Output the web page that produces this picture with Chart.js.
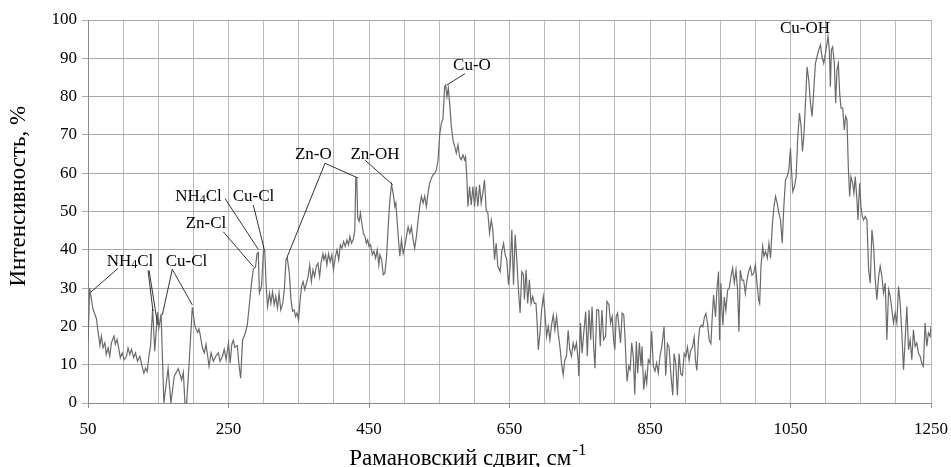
<!DOCTYPE html>
<html lang="ru">
<head>
<meta charset="UTF-8">
<title>Рамановский спектр</title>
<script src="https://cdn.jsdelivr.net/npm/chart.js"></script>
<style>
  body { margin: 0; background: #fff; }
</style>
</head>
<body>
<canvas id="myChart" width="951" height="467"></canvas>
<script>
// Raman shift, cm-1
const shift = [
  50, 52.4, 57, 62, 64, 67, 69, 71.4, 74, 76,
  78.6, 81, 83.3, 87, 89, 91.4, 94, 96, 98.6, 101.4,
  104.8, 107, 109.5, 112, 115, 117.6, 120.5, 123.8, 127, 129.5,
  132, 134.3, 136.7, 139, 142, 145, 149, 151, 154, 158,
  164, 168, 172.8, 178.5, 181, 183.3, 185.7, 188, 190.4, 193.8,
  198.5, 202.3, 206, 208, 210, 212.8, 215.7, 218, 220.4, 222.3,
  225.2, 228.5, 231.8, 235.6, 238, 241.4, 244, 246.6, 250, 252.3,
  254.7, 256.8, 259, 262.5, 264.9, 267.3, 270, 273.5, 276.8, 279.6,
  283, 285.3, 288.5, 290.6, 292.4, 294, 297, 300, 301.5, 303.7,
  305.6, 308.4, 310.3, 312.7, 315, 317.3, 319.7, 322, 324.4, 327.2,
  329.5, 331.9, 333.7, 336.6, 338.9, 341.2, 343.5, 345.5, 347.5, 349.7,
  351.6, 353.9, 356.2, 358.6, 361, 363.3, 365.6, 368, 370.3, 372.6,
  375, 377.3, 379.7, 382, 384.4, 385.8, 388.1, 390, 392.3, 394.7,
  397, 399.4, 402.2, 404.5, 406.9, 409.2, 411.5, 413.9, 416.2, 418.6,
  420.9, 422.8, 425.1, 427.5, 429.8, 431.2, 432.6, 434, 435.9, 437.8,
  439.7, 442, 444.4, 446.2, 448.1, 450, 452.3, 454.7, 457, 459.4,
  461.7, 464, 465.5, 468, 470.2, 472.6, 475, 477.3, 479.7, 482,
  484.4, 486.8, 488.2, 490, 492, 493.9, 496.2, 498.6, 501, 503.3,
  505.7, 508, 510.4, 512.8, 515, 517.5, 519.9, 522.2, 524.6, 527,
  529.3, 531.7, 534, 536.4, 538.8, 541.2, 543.5, 545.9, 548.3, 550.6,
  553, 555.3, 557.7, 559.1, 561, 562.9, 564.8, 567.2, 569.5, 571.9,
  574.3, 576.6, 579, 581.4, 583.7, 586.1, 587.5, 589.4, 590.8, 593.2,
  595.5, 597.9, 600.3, 602.6, 605, 607.4, 609.7, 612, 614.4, 616.8,
  619.2, 621.6, 624, 626.3, 628.7, 631, 633.4, 636.8, 639, 641.5,
  643.9, 646.2, 648.6, 651, 653.3, 655.7, 658, 660.4, 662.7, 665.1,
  667.5, 669.8, 671.2, 673.6, 675.9, 678.3, 680.7, 683, 685.4, 687.7,
  689.6, 691, 693.4, 695.8, 698.1, 700.5, 702.8, 705.2, 707.5, 709.9,
  712.3, 714.6, 717, 719.3, 721.7, 724, 726.4, 728.8, 731.1, 733.5,
  735.8, 738.2, 740.6, 742.9, 745.3, 747.7, 748.6, 751, 753.3, 755.7,
  758.5, 760.8, 763.2, 765.6, 767.5, 769.8, 771.7, 774.1, 776.9, 779.2,
  781.6, 784, 786.8, 788.7, 791.5, 793.9, 796.2, 798.1, 800, 801.9,
  803.8, 805.7, 808, 810.4, 812.7, 814.6, 816, 817.4, 819.8, 821.7,
  824, 826.4, 828.3, 830.6, 832.5, 834.9, 837.2, 838.7, 841, 843.4,
  845.3, 847.6, 850, 852.4, 854.7, 857.1, 859.4, 861.8, 864.2, 866.7,
  870, 872.4, 874.8, 877.1, 879.5, 882.4, 884.3, 886.7, 889, 891.4,
  893.8, 896.2, 898.6, 901, 903.3, 905.7, 908, 910.5, 912.9, 914.8,
  916.7, 919, 920.5, 922.8, 925.2, 927.6, 929.5, 931.9, 934.3, 936.7,
  938.6, 940.5, 941.9, 943.3, 945.2, 947.6, 949, 950.9, 952.4, 953.8,
  955.7, 958, 960.5, 962.8, 965.2, 967.6, 970, 972.4, 974.7, 976.6,
  978.5, 980.9, 983.3, 985.7, 988, 990.4, 992.8, 995.2, 997.6, 1000,
  1002.3, 1004.7, 1006.1, 1008, 1010.4, 1012.2, 1014.5, 1017, 1019.3, 1021.6,
  1024, 1026.4, 1028.7, 1031, 1033.4, 1035.8, 1038.2, 1040.5, 1042.9, 1045.3,
  1047.6, 1050, 1051.4, 1053.3, 1055.7, 1058, 1060.4, 1062.8, 1065.1, 1067,
  1069, 1071.3, 1073.6, 1076, 1078.4, 1080.7, 1083.1, 1085.5, 1087.8, 1090.2,
  1092.6, 1094.9, 1097.3, 1099.7, 1102, 1103.4, 1105.3, 1106.8, 1108.2, 1110,
  1112.4, 1114.3, 1116.2, 1118.1, 1120, 1121.9, 1124.3, 1126.6, 1128.5, 1130.4,
  1132.3, 1134.2, 1136.1, 1138.5, 1140.3, 1142.2, 1144.6, 1146, 1148.4, 1150.3,
  1152.2, 1154, 1156.4, 1158.8, 1161.2, 1163.5, 1165.9, 1168.3, 1170.6, 1173,
  1175.4, 1177.7, 1180.1, 1182.4, 1184.8, 1187.2, 1189.6, 1192, 1194.3, 1196.7,
  1199, 1201.4, 1203.8, 1206.1, 1208.5, 1210.9, 1213.2, 1215.6, 1218, 1220.3,
  1222.7, 1225, 1227.4, 1229.8, 1232.1, 1234.5, 1236.9, 1239.2, 1241.6, 1244,
  1246.3, 1248.7, 1250
];

// intensity, %
const intensity = [
  16, 30, 24.6, 22, 19, 15, 17.5, 14.4, 15.7, 12.7,
  14.4, 12.2, 15.7, 17.5, 15.3, 16.6, 14, 11.8, 13.1, 11.3,
  12.2, 14.4, 12.7, 14, 11.8, 13.1, 10.9, 12.2, 9.6, 7.8,
  9.1, 8.2, 12.2, 14.9, 24.6, 13.5, 23.7, 19.7, 23.3, 0,
  9, 0, 7, 9, 7.5, 6, 8, 0, 0, 10,
  25, 20, 18.4, 19.3, 17.5, 14.4, 13.1, 15.3, 12.2, 9.6,
  13.1, 10.9, 12.2, 13.1, 10.9, 12.2, 14, 11.3, 15.7, 10.4,
  15.3, 16.4, 14.5, 15, 10, 6.5, 16.4, 18, 20.4, 25.6,
  31.7, 35, 35.5, 39, 39.3, 28.7, 30.5, 40.4, 40, 30.4,
  25.2, 28.7, 26, 29, 25.7, 27.8, 24.8, 28.7, 24.3, 26,
  29.6, 37.4, 37.8, 33.9, 27, 24, 24.3, 22.6, 23.5, 21.7,
  26, 30.4, 31.7, 29.6, 31.3, 33, 36, 31.7, 34.8, 33,
  35.7, 36.5, 33, 37, 39, 37.4, 38.7, 36, 39, 36.9,
  38.7, 34.8, 38.3, 40, 37.4, 41.3, 40.4, 42.2, 40.9, 42.6,
  41.3, 43.5, 41.7, 42.6, 45.2, 58.7, 58.3, 48.3, 47.4, 49.6,
  47, 44.3, 43.5, 41.7, 42.6, 40.9, 41.3, 38.7, 39.6, 37.8,
  40, 36, 38.7, 37.4, 33.5, 33.9, 38.3, 46, 53, 57,
  54.8, 51.3, 52.2, 47.8, 42.6, 38.3, 42.6, 39, 40.9, 43.5,
  46, 44.3, 46, 42.6, 40.4, 43.5, 47.8, 51.3, 54, 52.2,
  54, 51.3, 54.8, 57.4, 58.7, 59.6, 60, 60.9, 63.5, 70,
  73, 74.3, 82.6, 83, 80, 82.2, 78.3, 72.2, 68.7, 67,
  65.2, 67.4, 64.3, 63.5, 64.8, 63.5, 64.3, 58.3, 51.3, 56.5,
  51.7, 56.5, 51.3, 56.5, 51.3, 57, 52.2, 54.8, 58.3, 50.4,
  49.6, 44.3, 47.8, 45.2, 37.4, 41.7, 35.7, 34.3, 39.6, 41.7,
  38.7, 37.4, 30.9, 35.7, 45.2, 30.9, 43.9, 37.4, 29.6, 23.5,
  34.3, 33.5, 27, 34.8, 26, 32.2, 26, 27.8, 26, 26,
  20, 13.9, 18.3, 24.3, 27.8, 23.5, 17.4, 20, 16.5, 20.4,
  23, 19.1, 22.6, 18.3, 14.8, 10.4, 7.4, 11.3, 12.2, 19,
  13.9, 12.2, 15.7, 13.9, 15.7, 11.3, 7, 20.9, 13, 18.3,
  23.9, 12.2, 24.3, 16.5, 25.2, 14.8, 9.1, 24.3, 24.3, 14.8,
  24.3, 16.5, 17.4, 26.5, 25.7, 20.9, 22.6, 16.5, 13.9, 22.6,
  23.5, 20, 15.7, 23.5, 23, 16.5, 10.4, 5.7, 9.6, 8.7,
  15.7, 11.7, 2.2, 16.1, 7.8, 15.7, 9.6, 14.8, 3.5, 7.8,
  5.2, 11.3, 10.4, 18.7, 9.6, 8.3, 10.4, 7.8, 12.2, 14.6,
  19.9, 7.2, 15.5, 14.6, 8, 2, 12.9, 10.3, 2, 12.9,
  7.6, 7.2, 12.9, 12.1, 14.6, 11.1, 13.8, 14.6, 17.2, 11.1,
  8.5, 16.4, 19.4, 20.3, 19.9, 22.5, 23.4, 20.8, 16.4, 15.5,
  22.5, 28.2, 25.1, 22.5, 29.5, 34.3, 16.4, 31.3, 24.3, 20.3,
  27.7, 24.2, 29.5, 29.9, 32.9, 35.2, 31.3, 34.7, 29.5, 18.6,
  34.7, 32.1, 32.1, 28.6, 32.1, 34.3, 35.6, 33.4, 33.8, 36.1,
  31.3, 26.9, 26, 35.6, 40.9, 38.3, 39.6, 37.8, 41.7, 37.8,
  46, 51.3, 53.9, 52.2, 49.6, 47.8, 41.7, 51.3, 58.3, 59.1,
  60.9, 66.5, 60.9, 55.2, 56.5, 59.1, 69.6, 75.7, 72.2, 65.7,
  69.6, 78.3, 87.8, 84.3, 78.3, 74.8, 81.7, 88.7, 90.4, 92.2,
  93.5, 90.4, 88.7, 91.3, 93.9, 95.7, 92.2, 82.6, 92.2, 93,
  88.7, 78.3, 87, 88.7, 80.9, 77, 77, 71.3, 74.8, 73.9,
  61.7, 53.9, 59.1, 57.4, 54.8, 59.1, 53, 47.8, 57.4, 51.3,
  48.7, 47.8, 48.7, 47.8, 34.8, 31.3, 45.2, 40.9, 32.2, 27,
  33, 35.7, 33, 28.7, 31.3, 16.5, 29.6, 27.8, 24.3, 20.9,
  23.5, 20.9, 30.4, 26.1, 18.3, 8.7, 16.5, 25.2, 13.9, 16.5,
  11.3, 19.1, 14.8, 15.7, 13, 12.2, 10.4, 9.6, 20.9, 14.8,
  18.3, 17.4, 20
];

const xTickLabels = [50, 250, 450, 650, 850, 1050, 1250];

// peak annotations (digits in a label are drawn as subscripts)
const peakLabels = ['NH4Cl', 'Cu-Cl', 'Zn-Cl', 'NH4Cl', 'Cu-Cl', 'Zn-O', 'Zn-OH', 'Cu-O', 'Cu-OH'];
const peakLabelX = [109.8, 190.2, 218, 207.3, 285.6, 370.7, 458.5, 596.6, 1070.6];
const peakLabelY = [37, 37, 46.9, 54, 54, 65, 65, 88, 97.7];

// leader lines: [x1, y1, x2, y2] in data units
const leaders = [
  [93, 35.2, 54.3, 29],
  [135.5, 34.6, 142.5, 24],
  [137, 34.6, 149, 20.5],
  [170, 34.9, 155.8, 23],
  [170, 34.9, 198.5, 25.6],
  [242.6, 44.7, 285.3, 35.6],
  [245, 53.4, 292.4, 40.1],
  [285.3, 51.7, 300.5, 40.4],
  [387.4, 62.6, 434.8, 58.7],
  [387.4, 62.6, 332.8, 37.8],
  [444.3, 63.4, 483.7, 57],
  [586.6, 86, 560.6, 83]
];

const FONT = '"Liberation Serif", "Times New Roman", serif';

function drawSubText(ctx, text, cx, cy, size) {
  const parts = text.split(/(\d+)/).filter(p => p !== '');
  let w = 0;
  parts.forEach(p => {
    const sub = /^\d+$/.test(p);
    ctx.font = (sub ? Math.round(size * 0.7) : size) + 'px ' + FONT;
    w += ctx.measureText(p).width;
  });
  let x = cx - w / 2;
  parts.forEach(p => {
    const sub = /^\d+$/.test(p);
    ctx.font = (sub ? Math.round(size * 0.7) : size) + 'px ' + FONT;
    ctx.fillText(p, x, sub ? cy + size * 0.22 : cy);
    x += ctx.measureText(p).width;
  });
}

const overlay = {
  id: 'overlay',
  afterDatasetsDraw(chart) {
    const { ctx, chartArea, scales } = chart;
    const xs = scales.x, ys = scales.y;
    ctx.save();

    ctx.strokeStyle = '#000';
    ctx.lineWidth = 0.8;
    leaders.forEach(([x1, y1, x2, y2]) => {
      ctx.beginPath();
      ctx.moveTo(xs.getPixelForValue(x1), ys.getPixelForValue(y1));
      ctx.lineTo(xs.getPixelForValue(x2), ys.getPixelForValue(y2));
      ctx.stroke();
    });

    ctx.fillStyle = '#000';
    ctx.textAlign = 'left';
    ctx.textBaseline = 'middle';
    peakLabels.forEach((t, i) => {
      drawSubText(ctx, t, xs.getPixelForValue(peakLabelX[i]), ys.getPixelForValue(peakLabelY[i]), 17);
    });

    // x axis title with superscript
    const main = 'Рамановский сдвиг, см';
    const sup = '-1';
    ctx.textBaseline = 'alphabetic';
    ctx.font = '23px ' + FONT;
    const wMain = ctx.measureText(main).width;
    ctx.font = '17px ' + FONT;
    const wSup = ctx.measureText(sup).width;
    const cx = chartArea.left + 0.45 * (chartArea.right - chartArea.left);
    const base = chartArea.bottom + 62;
    let x0 = cx - (wMain + wSup) / 2;
    ctx.font = '23px ' + FONT;
    ctx.fillText(main, x0, base);
    ctx.font = '17px ' + FONT;
    ctx.fillText(sup, x0 + wMain + 1, base - 10);

    // y axis title
    ctx.translate(19, chartArea.top + 0.46 * (chartArea.bottom - chartArea.top));
    ctx.rotate(-Math.PI / 2);
    ctx.textAlign = 'center';
    ctx.textBaseline = 'middle';
    ctx.font = '23px ' + FONT;
    ctx.fillText('Интенсивность, %', 0, 0);

    ctx.restore();
  }
};

const ctx = document.getElementById('myChart').getContext('2d');
new Chart(ctx, {
  type: 'line',
  data: {
    datasets: [{
      data: shift.map((s, i) => ({ x: s, y: intensity[i] })),
      borderColor: '#6a6a6a',
      borderWidth: 1.2,
      pointRadius: 0,
      tension: 0,
      fill: false
    }]
  },
  options: {
    responsive: false,
    animation: false,
    devicePixelRatio: 1,
    layout: { padding: { top: 20, right: 20, left: 0, bottom: 0 } },
    plugins: {
      legend: { display: false },
      tooltip: { enabled: false }
    },
    scales: {
      x: {
        type: 'linear',
        min: 50,
        max: 1250,
        afterFit: s => { s.height = 64; s.paddingLeft = 0; s.paddingRight = 0; },
        border: { color: '#8c8c8c' },
        grid: {
          color: '#b8b8b8',
          tickLength: 5,
          tickColor: c => (c.tick && xTickLabels.includes(c.tick.value)) ? '#8c8c8c' : 'rgba(0,0,0,0)'
        },
        ticks: {
          stepSize: 50,
          autoSkip: false,
          maxRotation: 0,
          padding: 11,
          color: '#000',
          font: { family: FONT, size: 17 },
          callback: v => xTickLabels.includes(v) ? v : ''
        }
      },
      y: {
        min: 0,
        max: 100,
        afterFit: s => { s.width = 88; },
        border: { color: '#8c8c8c' },
        grid: { color: '#a8a8a8', tickLength: 6 },
        ticks: {
          stepSize: 10,
          padding: 5,
          color: '#000',
          font: { family: FONT, size: 17 }
        }
      }
    }
  },
  plugins: [overlay]
});
</script>
</body>
</html>
